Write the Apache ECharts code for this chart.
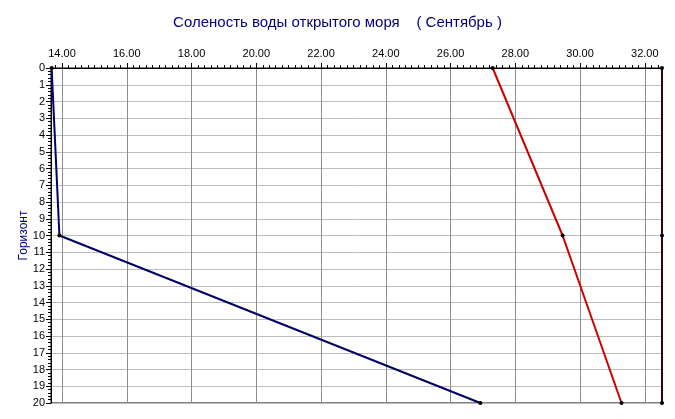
<!DOCTYPE html>
<html>
<head>
<meta charset="utf-8">
<script src="https://cdn.jsdelivr.net/npm/echarts@6/dist/echarts.min.js"></script>
<style>
html,body{margin:0;padding:0;background:#fff;}
#c{width:675px;height:419px;}
</style>
</head>
<body>
<div id="c"></div>
<script>
const horizons = [0, 10, 20];
const salinityA = [13.68, 13.92, 26.92];
const salinityB = [27.30, 29.46, 31.28];
const salinityC = [32.53, 32.53, 32.53];
const xTickValues = [14, 16, 18, 20, 22, 24, 26, 28, 30, 32];
const xMin = 13.66, xMax = 32.53;

const minorX = [];
for (let i = 69; i <= 162; i++) { const v = +(i * 0.2).toFixed(1); if (v > xMin && v < xMax && xTickValues.indexOf(v) < 0) minorX.push(v); }

function pairs(xs) { return horizons.map((h, i) => [xs[i], h]); }

const font = 'Liberation Sans, Arial, sans-serif';
const chart = echarts.init(document.getElementById('c'), null, {renderer: 'canvas'});
const mk = (data, color) => ({
  type: 'line', data: pairs(data), symbol: 'circle', symbolSize: 4,
  itemStyle: {color: '#000'}, lineStyle: {color: color, width: 2}, animation: false, z: 3
});
chart.setOption({
  animation: false,
  title: {
    text: 'Соленость воды открытого моря    ( Сентябрь )', left: 'center', top: 10,
    textStyle: {fontFamily: font, fontSize: 15, fontWeight: 'normal', color: '#000080'}
  },
  grid: {left: 51, right: 13, top: 68, bottom: 16, show: true, borderColor: '#000', borderWidth: 1, backgroundColor: 'transparent'},
  xAxis: [{
    type: 'value', position: 'top', min: xMin, max: xMax,
    axisLine: {show: true, lineStyle: {color: '#000', width: 1}},
    axisTick: {show: true, inside: false, length: 5, lineStyle: {color: '#000'}, customValues: xTickValues},
    axisLabel: {customValues: xTickValues, formatter: v => v.toFixed(2), fontFamily: font, fontSize: 11, color: '#000', margin: 9},
    splitLine: {show: true, lineStyle: {color: '#8c8c8c', width: 1}},
    minorTick: {show: false}
  }, {
    type: 'value', position: 'top', min: xMin, max: xMax,
    axisLine: {show: false},
    axisTick: {show: true, inside: false, length: 3, lineStyle: {color: '#000'}, customValues: minorX},
    axisLabel: {show: false},
    splitLine: {show: false}
  }],
  yAxis: {
    type: 'value', inverse: true, min: 0, max: 20, interval: 1,
    name: 'Горизонт', nameLocation: 'middle', nameRotate: 90, nameGap: 27, nameMoveOverlap: false,
    nameTextStyle: {fontFamily: font, fontSize: 12, color: '#000080', verticalAlign: 'middle'},
    axisLine: {show: true, lineStyle: {color: '#000', width: 1}},
    axisTick: {show: true, inside: false, length: 5, lineStyle: {color: '#000'}},
    minorTick: {show: true, splitNumber: 5, length: 3, lineStyle: {color: '#000'}},
    axisLabel: {fontFamily: font, fontSize: 11, color: '#000', margin: 6},
    splitLine: {show: true, lineStyle: {color: '#bdbdbd', width: 1}}
  },
  series: [mk(salinityA, '#000066'), mk(salinityB, '#cc0000'), mk(salinityC, '#400000')]
});
</script>
</body>
</html>
